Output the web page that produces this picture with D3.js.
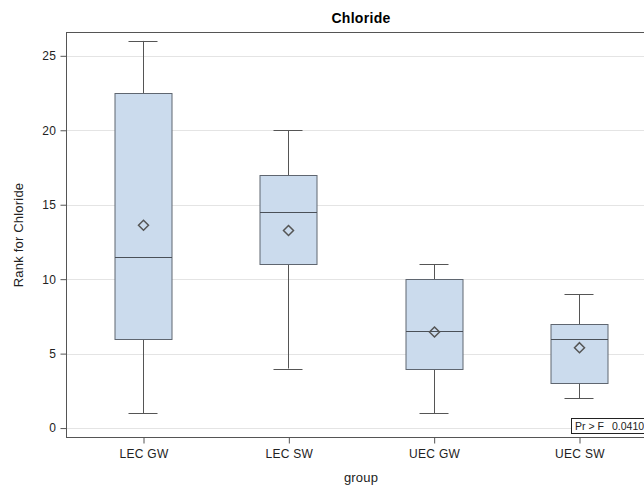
<!DOCTYPE html>
<html lang="en">
<head>
<meta charset="UTF-8">
<title>Chloride</title>
<script src="https://d3js.org/d3.v7.min.js"></script>
<style>
  body { margin: 0; background: #fff; }
  text { font-family: "Liberation Sans", Arial, sans-serif; }
</style>
</head>
<body>
<script>
// box plot values
const groups  = ["LEC GW", "LEC SW", "UEC GW", "UEC SW"];
const minVals = [1, 4, 1, 2];
const q1Vals  = [6, 11, 4, 3];
const medians = [11.5, 14.5, 6.5, 6];
const q3Vals  = [22.5, 17, 10, 7];
const maxVals = [26, 20, 11, 9];
const means   = [13.62, 13.27, 6.45, 5.4];
const yTicks  = [0, 5, 10, 15, 20, 25];
const pValue  = "0.0410";

const width = 644, height = 489;
const margin = {top: 32, bottom: 52, left: 66};
const plotBottom = height - margin.bottom;

const svg = d3.select("body").append("svg")
    .attr("width", width)
    .attr("height", height);

// the plot runs past the right edge of the picture, so the last group sits near it
const x = d3.scalePoint()
    .domain(groups)
    .range([143, 579]);

const y = d3.scaleLinear()
    .domain([-0.6, 26.6])
    .range([plotBottom, margin.top]);

const boxW = 57, capW = 29;

// grid
svg.append("g")
    .selectAll("line")
    .data(yTicks)
    .enter().append("line")
    .attr("x1", margin.left)
    .attr("x2", width)
    .attr("y1", d => Math.round(y(d)) + 0.5)
    .attr("y2", d => Math.round(y(d)) + 0.5)
    .attr("stroke", "#e4e4e4");

const data = groups.map((g, i) => ({
    g: g, min: minVals[i], q1: q1Vals[i], med: medians[i],
    q3: q3Vals[i], max: maxVals[i], mean: means[i]
}));

const box = svg.append("g")
    .selectAll("g")
    .data(data)
    .enter().append("g")
    .attr("transform", d => `translate(${Math.round(x(d.g))},0)`);

// whiskers
box.append("line")
    .attr("x1", 0.5).attr("x2", 0.5)
    .attr("y1", d => y(d.min)).attr("y2", d => y(d.max))
    .attr("stroke", "#555");
box.append("line")
    .attr("x1", -capW / 2).attr("x2", capW / 2)
    .attr("y1", d => Math.round(y(d.min)) + 0.5).attr("y2", d => Math.round(y(d.min)) + 0.5)
    .attr("stroke", "#555");
box.append("line")
    .attr("x1", -capW / 2).attr("x2", capW / 2)
    .attr("y1", d => Math.round(y(d.max)) + 0.5).attr("y2", d => Math.round(y(d.max)) + 0.5)
    .attr("stroke", "#555");

// box
box.append("rect")
    .attr("x", -boxW / 2 + 0.5)
    .attr("y", d => Math.round(y(d.q3)) + 0.5)
    .attr("width", boxW)
    .attr("height", d => Math.round(y(d.q1)) - Math.round(y(d.q3)))
    .attr("fill", "#cbdbed")
    .attr("stroke", "#5f6670");

// median
box.append("line")
    .attr("x1", -boxW / 2 + 0.5).attr("x2", boxW / 2 + 0.5)
    .attr("y1", d => Math.round(y(d.med)) + 0.5).attr("y2", d => Math.round(y(d.med)) + 0.5)
    .attr("stroke", "#4a5058");

// mean diamond
box.append("path")
    .attr("d", d => {
        const cy = y(d.mean), r = 5;
        return `M0.5,${cy - r}L${r + 0.5},${cy}L0.5,${cy + r}L${-r + 0.5},${cy}Z`;
    })
    .attr("fill", "none")
    .attr("stroke", "#555")
    .attr("stroke-width", 1.5);

// frame
svg.append("rect")
    .attr("x", margin.left + 0.5)
    .attr("y", margin.top + 0.5)
    .attr("width", width + 10)
    .attr("height", plotBottom - margin.top)
    .attr("fill", "none")
    .attr("stroke", "#555");

// y axis
const yAxis = svg.append("g")
    .attr("transform", `translate(${margin.left + 0.5},0)`)
    .call(d3.axisLeft(y).tickValues(yTicks).tickSize(6).tickSizeOuter(0));
yAxis.select(".domain").remove();
yAxis.selectAll(".tick line").attr("stroke", "#555");
yAxis.selectAll("text").attr("font-size", "12px").attr("fill", "#222")
    .attr("letter-spacing", "0.3px").attr("dx", "-0.1em");

// x axis
const xAxis = svg.append("g")
    .attr("transform", `translate(0.5,${plotBottom + 0.5})`)
    .call(d3.axisBottom(x).tickSize(6).tickSizeOuter(0));
xAxis.select(".domain").remove();
xAxis.selectAll(".tick line").attr("stroke", "#555");
xAxis.selectAll("text").attr("font-size", "12px").attr("fill", "#222")
    .attr("letter-spacing", "0.3px").attr("dy", "0.95em");

// titles
svg.append("text")
    .attr("x", 361).attr("y", 23)
    .attr("text-anchor", "middle")
    .attr("font-size", "14px")
    .attr("font-weight", "bold")
    .attr("letter-spacing", "0.3px")
    .text("Chloride");

svg.append("text")
    .attr("x", 361).attr("y", 482)
    .attr("text-anchor", "middle")
    .attr("font-size", "13px")
    .attr("fill", "#222")
    .attr("letter-spacing", "0.2px")
    .text("group");

svg.append("text")
    .attr("transform", "translate(23,235) rotate(-90)")
    .attr("text-anchor", "middle")
    .attr("font-size", "13px")
    .attr("fill", "#222")
    .attr("letter-spacing", "0.2px")
    .text("Rank for Chloride");

// p-value inset
const inset = svg.append("g").attr("transform", "translate(571,418)");
inset.append("rect")
    .attr("x", 0.5).attr("y", 0.5)
    .attr("width", 90).attr("height", 15)
    .attr("fill", "#fff")
    .attr("stroke", "#222");
inset.append("text")
    .attr("x", 4).attr("y", 12)
    .attr("font-size", "10.5px")
    .attr("fill", "#222")
    .text("Pr > F");
inset.append("text")
    .attr("x", 41).attr("y", 12)
    .attr("font-size", "10.5px")
    .attr("fill", "#222")
    .text(pValue);
</script>
</body>
</html>
